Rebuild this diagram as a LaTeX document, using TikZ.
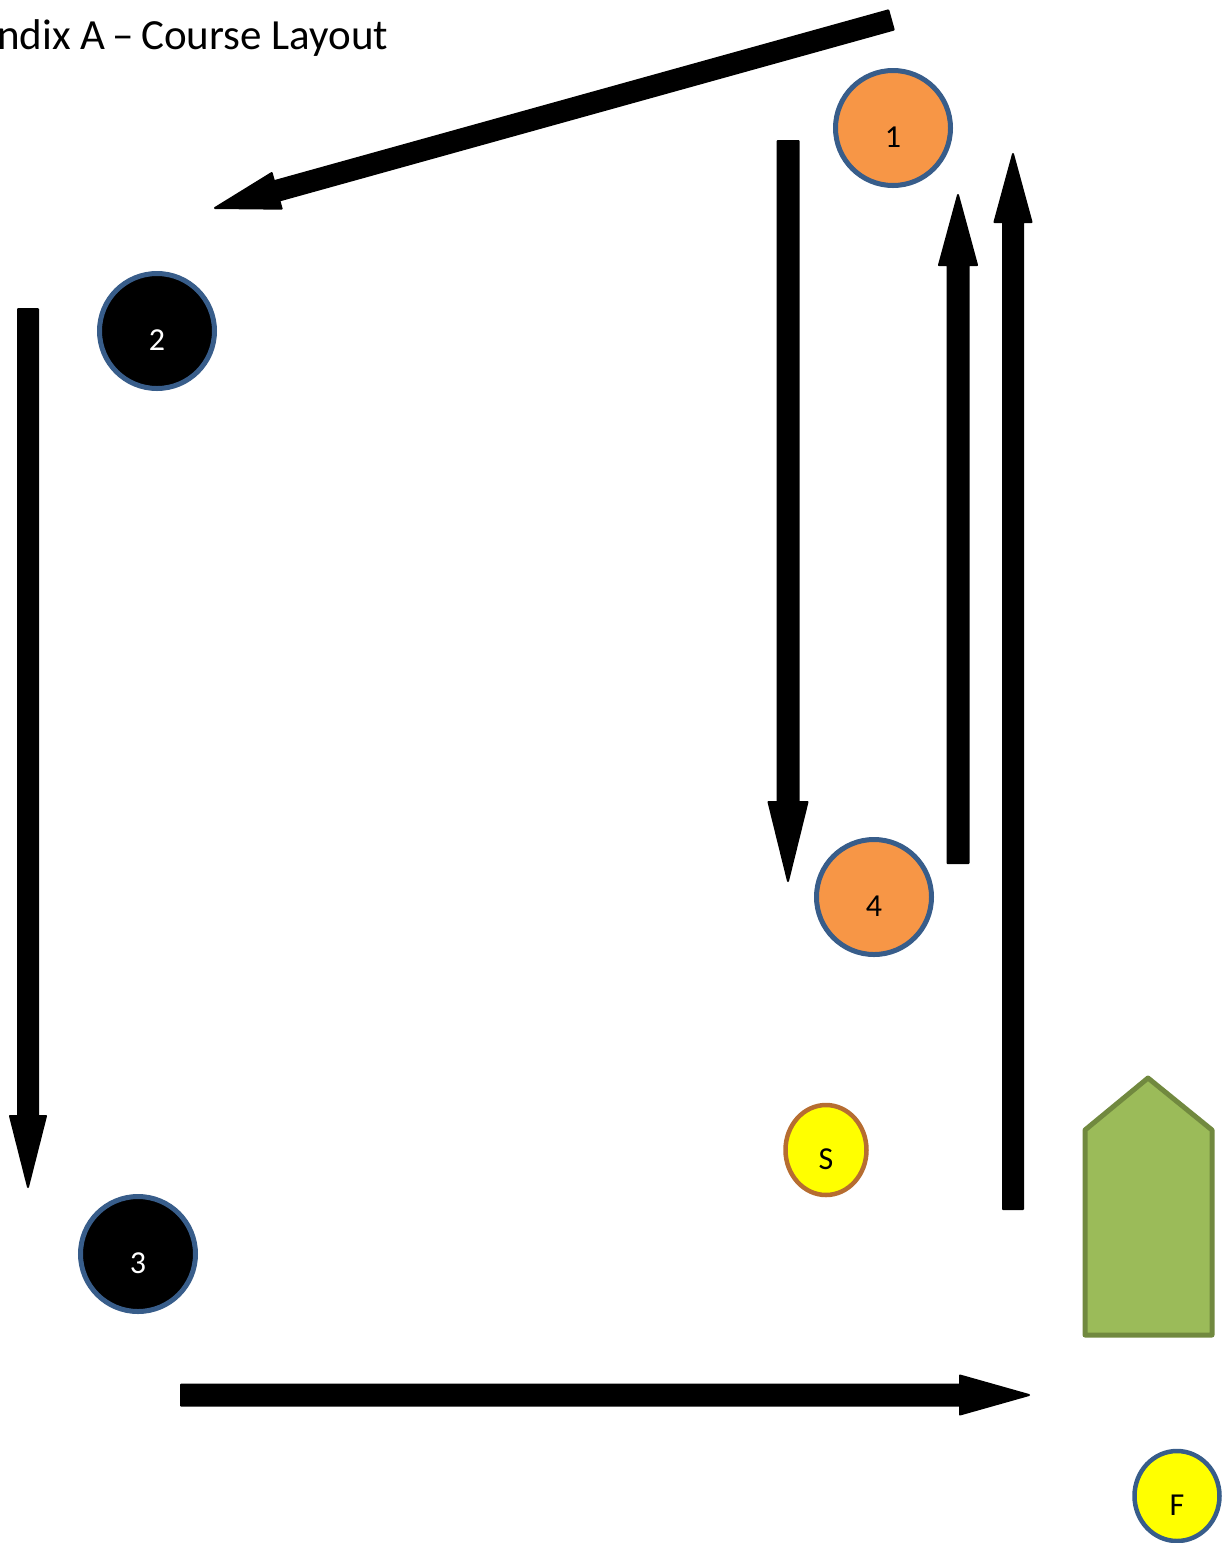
\documentclass[tikz,border=0pt]{standalone}
\usepackage{fontspec}
\setmainfont{Carlito}
\usetikzlibrary{calc,shapes.geometric}
\definecolor{mkorange}{HTML}{F79646}
\definecolor{mkblue}{HTML}{385D8A}
\definecolor{mkbrown}{HTML}{B66D31}
\definecolor{mkyellow}{HTML}{FFFF00}
\definecolor{mkgreen}{HTML}{9BBB59}
\definecolor{mkgreendark}{HTML}{71893F}
\newcommand\buoytext[1]{\raisebox{-19pt}[0pt][0pt]{#1}}
% \blockarrow{start}{end}{head length}{head half width}{shaft half width}
\newcommand\blockarrow[5]{%
  \coordinate (bah) at ($(#2)!#3!(#1)$);
  \filldraw[arrowbody]
    ($(#1)!#5!90:(#2)$) -- ($(bah)!#5!90:(#2)$) -- ($(bah)!#4!90:(#2)$) --
    (#2) --
    ($(bah)!#4!-90:(#2)$) -- ($(bah)!#5!-90:(#2)$) -- ($(#1)!#5!-90:(#2)$) -- cycle;
}
\tikzset{
  buoy/.style={circle,line width=5pt,inner sep=0pt,minimum size=115pt,font=\fontsize{32}{34}\selectfont},
  orangebuoy/.style={buoy,fill=mkorange,draw=mkblue,text=black},
  blackbuoy/.style={buoy,fill=black,draw=mkblue,text=white},
  smallbuoy/.style={ellipse,line width=4.5pt,inner sep=0pt,fill=mkyellow,text=black,font=\fontsize{32}{34}\selectfont},
  arrowbody/.style={fill=black,draw=black,line width=2pt,line join=round},
}
\begin{document}
\begin{tikzpicture}[x=1pt,y=-1pt]
\useasboundingbox (0,0) rectangle (1230,1543);
% title
\node[anchor=base west,inner sep=0pt,font=\fontsize{43}{45}\selectfont] (title) at (-3,49) {ndix A\,–\,Course Layout};
% marks
\node[orangebuoy] (m1) at (893,128) {\buoytext{1}};
\node[blackbuoy] (m2) at (157,331) {\buoytext{2}};
\node[blackbuoy] (m3) at (138,1254) {\buoytext{3}};
\node[orangebuoy] (m4) at (874,897) {\buoytext{4}};
\node[smallbuoy,draw=mkbrown,minimum width=81pt,minimum height=90pt] (ms) at (826,1150) {\buoytext{S}};
\node[smallbuoy,draw=mkblue,minimum width=85pt,minimum height=90pt] (mf) at (1177,1496) {\buoytext{F}};
% green pentagon (finish boat)
\draw[fill=mkgreen,draw=mkgreendark,line width=5pt,line join=round]
  (1085,1335) -- (1085,1130) -- (1148,1078) -- (1212,1130) -- (1212,1335) -- cycle;
% arrows
\coordinate (a1s) at (891,20);
\coordinate (a1e) at (215,208);
\coordinate (a2s) at (788,141);
\coordinate (a2e) at (788,881);
\coordinate (a3s) at (958,863);
\coordinate (a3e) at (958,195);
\coordinate (a4s) at (1013,1209);
\coordinate (a4e) at (1013,154);
\coordinate (a5s) at (28,309);
\coordinate (a5e) at (28,1187);
\coordinate (a6s) at (181,1395);
\coordinate (a6e) at (1029,1395);
\blockarrow{a1s}{a1e}{64pt}{18.5pt}{10pt}
\blockarrow{a2s}{a2e}{79pt}{19.5pt}{10.5pt}
\blockarrow{a3s}{a3e}{70pt}{19pt}{10.5pt}
\blockarrow{a4s}{a4e}{68pt}{18.5pt}{10pt}
\blockarrow{a5s}{a5e}{71pt}{18pt}{10pt}
\blockarrow{a6s}{a6e}{69pt}{19.5pt}{10.5pt}
\end{tikzpicture}
\end{document}
